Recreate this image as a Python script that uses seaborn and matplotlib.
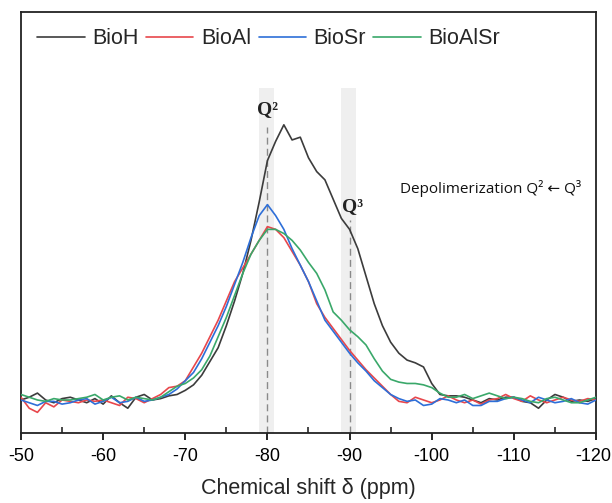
import numpy as np
import pandas as pd
import matplotlib
matplotlib.use("Agg")
import matplotlib.pyplot as plt
import matplotlib.transforms as mtransforms
import seaborn as sns
from matplotlib.ticker import MultipleLocator

sns.set_theme(style="white")
plt.rcParams['font.family'] = ['Liberation Sans', 'DejaVu Sans']
plt.rcParams['axes.unicode_minus'] = False

ppm = list(range(-50, -121, -1))

bio_h = [0, 1, 2.5, 0, -1, 0.5, 1, 0, -1, 0.5,
         -1.5, 1.5, -1, -3, 1, 2, 0, 0.5, 1.5, 2,
         3.5, 5.5, 9, 14, 19, 27, 36, 46, 58, 72,
         87, 94, 100, 94.5, 95.5, 88, 83, 80, 73, 66,
         62, 55, 45, 35, 27, 21, 17, 14.5, 13.5, 12,
         6, 2, 1.5, 1.5, 1, 0, -1, 0.5, 0, 1,
         1, -0.5, -1, -3, 0, 2, 1, -0.5, 0, -0.5,
         0.5]

bio_al = [1, -3, -4.5, -1, -2.5, 0, -0.5, -1, 0, -0.5,
          0, -1, -2, 1, 0.5, -1, 0.5, 2, 4.5, 5,
          7, 12, 17, 23, 29, 36, 43, 48, 53, 58,
          63, 62, 59, 54, 49, 43, 35, 30, 26, 22,
          18, 14.5, 11, 8, 5, 2, -0.5, -1, 1, 0,
          -1, 0, 1.5, 0, -1, 0, -1.5, 0, 0.5, 2,
          0.5, -0.5, 1.5, 0, -1, 0, 1, 0, -0.5, 0.5,
          0]

bio_sr = [0, -1, -2, -0.5, -0.5, -1.5, -1, 0, 0.5, -1.5,
          -0.5, 1, -1, -0.5, 1, -0.5, 0, 1, 2, 4,
          7, 10, 15, 21, 27, 34, 42, 50, 59, 67,
          71, 67, 62, 55, 49, 43, 36, 29, 25, 21,
          17, 13.5, 10.5, 7, 4.5, 2, 0.5, -0.5, 0, -2,
          -1.5, 0.5, 0, -1, 0, -2, -2, -0.5, -0.5, 0.5,
          1, 0, -1, 1, 0, -1, -0.5, 0.5, -1, -1.5,
          0]

bio_alsr = [2, 1, 0, -0.5, 0.5, 0, 0, 0.5, 1, 2,
            0, 1, 1.5, 0, 1, 0.5, 0, 1, 3, 5,
            6, 8, 11, 16, 23, 30, 38, 46, 53, 58,
            62, 62, 60.5, 58, 54.5, 50, 46, 40, 32, 29,
            25.5, 23, 20, 15, 10.5, 7.5, 6.5, 6, 6, 5.5,
            4.5, 2.5, 1, 1, 2, 0.5, 1.5, 2.5, 1.5, 0.5,
            1, 0.5, -0.5, -1, 0.5, 1, 0, -1, -1, 0,
            1]

series_names = ["BioH", "BioAl", "BioSr", "BioAlSr"]
colors = ["#3c3c3c", "#e8474c", "#2e6fd8", "#3aa86a"]

df = pd.concat([
    pd.DataFrame({"ppm": ppm, "intensity": vals, "sample": name})
    for name, vals in zip(series_names, [bio_h, bio_al, bio_sr, bio_alsr])
])

fig = plt.figure(figsize=(6.12, 5.03), dpi=100)
ax = fig.add_axes([21/612, 1 - 433/503, 575/612, 421/503])

# highlight bands
ax.axvspan(-79.0, -80.8, ymin=0, ymax=0.82, color="#efefef", lw=0, zorder=0)
ax.axvspan(-89.0, -90.8, ymin=0, ymax=0.82, color="#efefef", lw=0, zorder=0)
ax.axvline(-80, ymin=0, ymax=0.727, color="#8a8a8a", ls=(0, (5, 3)), lw=1.0, zorder=1)
ax.axvline(-90, ymin=0, ymax=0.506, color="#8a8a8a", ls=(0, (5, 3)), lw=1.0, zorder=1)

sns.lineplot(data=df, x="ppm", y="intensity", hue="sample", hue_order=series_names,
             palette=colors, lw=1.2, ax=ax, sort=False, legend=True, zorder=3)

ax.set_xlim(-50, -120)
ax.set_ylim(-12, 141)
ax.set_yticks([])
ax.set_ylabel("")
ax.set_xlabel("Chemical shift δ (ppm)", fontsize=15.5, labelpad=9)
ax.xaxis.set_major_locator(MultipleLocator(10))
ax.xaxis.set_minor_locator(MultipleLocator(5))
ax.tick_params(axis="x", which="major", direction="out", length=5, width=1.2,
               labelsize=13, pad=6, bottom=True, colors="black")
ax.tick_params(axis="x", which="minor", direction="in", length=4, width=1.2, bottom=True)
for s in ax.spines.values():
    s.set_visible(True)
    s.set_color("#222222")
    s.set_linewidth(1.3)

# keep the edge tick labels inside the canvas
fig.canvas.draw()
for lbl in ax.get_xticklabels():
    if lbl.get_text() in ("-120",):
        lbl.set_transform(lbl.get_transform() +
                          mtransforms.ScaledTranslation(-3/100, 0, fig.dpi_scale_trans))

ax.text(-80, 105.5, "Q²", ha="center", va="center", fontsize=14, fontweight="bold",
        family=["Liberation Serif", "DejaVu Serif"], color="#222222")
ax.text(-90.4, 70.3, "Q³", ha="center", va="center", fontsize=14, fontweight="bold",
        family=["Liberation Serif", "DejaVu Serif"], color="#222222")
ax.text(-96.1, 76.7, "Depolimerization Q² ← Q³", ha="left", va="center", fontsize=11,
        family=["Open Sans", "DejaVu Sans"], color="#111111")

leg = ax.legend(ncol=4, loc="upper left", bbox_to_anchor=(0.0, 1.0), frameon=False,
                fontsize=15.5, handlelength=2.2, handletextpad=0.35, columnspacing=0.35,
                borderaxespad=0.35)
for h in leg.get_lines():
    h.set_linewidth(1.2)

fig.savefig("out.png", dpi=100)
